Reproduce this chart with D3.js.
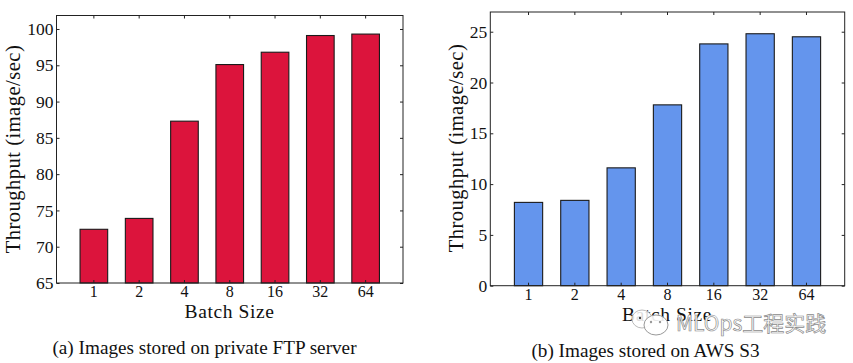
<!DOCTYPE html>
<html>
<head>
<meta charset="utf-8">
<script src="https://cdn.jsdelivr.net/npm/d3@7"></script>
<style>
  html, body { margin: 0; padding: 0; background: #fff; }
  svg { display: block; }
  text { font-family: "Liberation Serif", serif; fill: #111; }
</style>
</head>
<body>
<div class="canvas"></div>
<script>
const batchSizes = ['1', '2', '4', '8', '16', '32', '64'];
const ftpThroughput = [72.4, 73.9, 87.3, 95.1, 96.8, 99.1, 99.3];
const s3Throughput = [8.2, 8.4, 11.6, 17.8, 23.8, 24.8, 24.5];
const ftpTicks = [65, 70, 75, 80, 85, 90, 95, 100];
const s3Ticks = [0, 5, 10, 15, 20, 25];

const svg = d3.select('.canvas')
  .append('svg')
  .attr('width', 853)
  .attr('height', 363);

function drawPanel(opts) {
  const { left, right, top, bottom } = opts;

  const x = d3.scaleBand()
    .domain(batchSizes)
    .range([left, right])
    .paddingInner(0.39)
    .paddingOuter(0.52);
  const y = d3.scaleLinear()
    .domain(opts.domain)
    .range([bottom, top]);

  // bars
  svg.append('g').selectAll('rect')
    .data(opts.values)
    .enter()
    .append('rect')
    .attr('x', (d, i) => x(batchSizes[i]))
    .attr('y', d => y(d))
    .attr('width', x.bandwidth())
    .attr('height', d => bottom - y(d))
    .attr('fill', opts.color)
    .attr('stroke', '#1a1a1a')
    .attr('stroke-width', 1.1);

  // frame
  svg.append('rect')
    .attr('x', left)
    .attr('y', top)
    .attr('width', right - left)
    .attr('height', bottom - top)
    .attr('fill', 'none')
    .attr('stroke', '#222')
    .attr('stroke-width', 1);

  // axes, ticks point inward on all four sides
  const bottomAxis = d3.axisBottom(x).tickSize(-3).tickPadding(3);
  const topAxis = d3.axisTop(x).tickSize(-3).tickFormat('');
  const leftAxis = d3.axisLeft(y).tickValues(opts.ticks).tickSize(-3).tickPadding(3);
  const rightAxis = d3.axisRight(y).tickValues(opts.ticks).tickSize(-3).tickFormat('');

  const groups = [
    [bottomAxis, `translate(0, ${bottom})`, 16],
    [topAxis, `translate(0, ${top})`, 16],
    [leftAxis, `translate(${left}, 0)`, 17.5],
    [rightAxis, `translate(${right}, 0)`, 17.5]
  ];
  groups.forEach(([axis, transform, fontSize]) => {
    const g = svg.append('g').attr('transform', transform).call(axis);
    g.select('.domain').remove();
    g.selectAll('line').attr('stroke', '#222');
    g.selectAll('text')
      .style('font-family', '"Liberation Serif", serif')
      .style('font-size', fontSize + 'px')
      .style('fill', '#111');
  });

  // axis titles and caption
  svg.append('text')
    .attr('x', opts.xTitleX)
    .attr('y', opts.xTitleY)
    .attr('text-anchor', 'middle')
    .attr('font-size', 19.5)
    .attr('letter-spacing', 0.6)
    .text('Batch Size');

  svg.append('text')
    .attr('transform', `translate(${opts.yTitleX}, ${opts.yTitleY}) rotate(-90)`)
    .attr('text-anchor', 'middle')
    .attr('font-size', 20.5)
    .attr('letter-spacing', 0.5)
    .text('Throughput (image/sec)');

  svg.append('text')
    .attr('x', opts.captionX)
    .attr('y', opts.captionY)
    .attr('text-anchor', 'middle')
    .attr('font-size', 19.2)
    .text(opts.caption);
}

drawPanel({
  left: 56.5, right: 403, top: 15.5, bottom: 283,
  domain: [65, 101.86],
  values: ftpThroughput,
  ticks: ftpTicks,
  color: '#dc143c',
  xTitleX: 229.5, xTitleY: 317.5,
  yTitleX: 20, yTitleY: 149,
  captionX: 204.5, captionY: 354,
  caption: '(a) Images stored on private FTP server'
});

drawPanel({
  left: 490.3, right: 844.7, top: 12, bottom: 285.7,
  domain: [0, 26.94],
  values: s3Throughput,
  ticks: s3Ticks,
  color: '#6495ed',
  xTitleX: 667, xTitleY: 320.5,
  yTitleX: 462.5, yTitleY: 148,
  captionX: 645.5, captionY: 357,
  caption: '(b) Images stored on AWS S3'
});

// watermark over the right panel's x title
const mark = svg.append('g');
mark.append('ellipse')
  .attr('cx', 642).attr('cy', 319).attr('rx', 10).attr('ry', 9)
  .attr('fill', '#fff').attr('fill-opacity', 0.85)
  .attr('stroke', '#bbb').attr('stroke-width', 1);
mark.append('ellipse')
  .attr('cx', 656).attr('cy', 325).attr('rx', 12).attr('ry', 10)
  .attr('fill', '#fff').attr('fill-opacity', 0.9)
  .attr('stroke', '#999').attr('stroke-width', 1);
mark.append('circle').attr('cx', 640).attr('cy', 318).attr('r', 1.2).attr('fill', '#444');
mark.append('circle').attr('cx', 651).attr('cy', 322).attr('r', 1.2).attr('fill', '#999');
mark.append('circle').attr('cx', 660).attr('cy', 322).attr('r', 1.2).attr('fill', '#999');
mark.append('text')
  .attr('x', 676)
  .attr('y', 331)
  .attr('font-size', 21)
  .style('font-family', '"Noto Sans CJK SC", "Noto Sans", sans-serif')
  .style('fill', '#fff')
  .style('stroke', '#8a8a8a')
  .style('stroke-width', 0.7)
  .text('MLOps工程实践');
</script>
</body>
</html>
